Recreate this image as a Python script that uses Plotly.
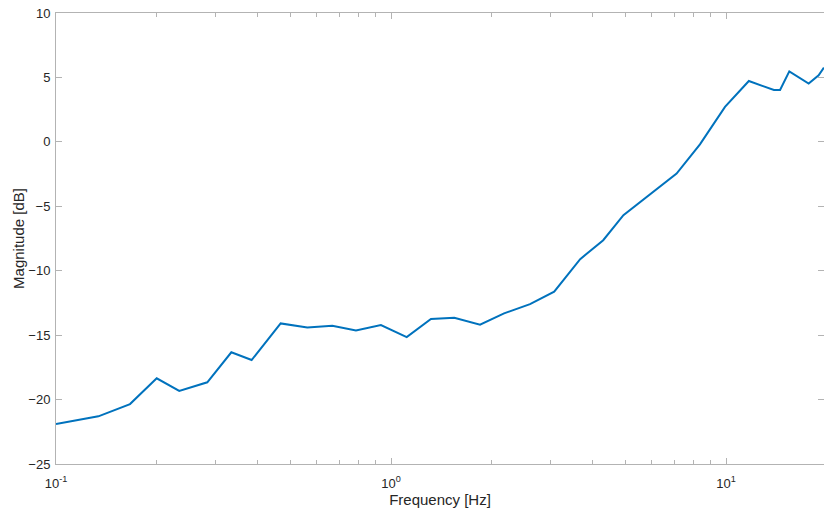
import plotly.graph_objects as go

# Measured frequency response
freq_hz = [0.1, 0.1338, 0.1663, 0.1998, 0.2333, 0.2829, 0.3337, 0.3837, 0.4684,
           0.5626, 0.668, 0.786, 0.933, 1.114, 1.316, 1.545, 1.844, 2.175, 2.60,
           3.07, 3.67, 4.30, 4.94, 7.12, 8.36, 9.93, 11.7, 13.9, 14.5, 15.45,
           17.65, 18.9, 19.6]
magnitude_db = [-21.9, -21.3, -20.35, -18.35, -19.33, -18.66, -16.33, -16.93, -14.09,
                -14.4, -14.27, -14.63, -14.22, -15.15, -13.75, -13.65, -14.19, -13.31, -12.59,
                -11.63, -9.1, -7.63, -5.69, -2.46, -0.19, 2.71, 4.72, 4.02, 4.02, 5.47,
                4.52, 5.16, 5.76]

x_major = [0.1, 1, 10]
x_major_text = ["10<sup>-1</sup>", "10<sup>0</sup>", "10<sup>1</sup>"]
x_minor = [m * d for d in (0.1, 1, 10) for m in range(2, 10)]
y_ticks = [-25, -20, -15, -10, -5, 0, 5, 10]

axis_grey = "#b3b3b3"
text_dark = "#262626"
font_family = "Helvetica, Liberation Sans, Arial, sans-serif"

fig = go.Figure(
    go.Scatter(
        x=freq_hz,
        y=magnitude_db,
        mode="lines",
        line=dict(color="#0072BD", width=2),
        showlegend=False,
    )
)

fig.update_layout(
    width=824,
    height=512,
    margin=dict(l=56, r=0, t=13, b=48),
    paper_bgcolor="white",
    plot_bgcolor="white",
    font=dict(family=font_family, size=13, color=text_dark),
)

fig.update_xaxes(
    type="log",
    range=[-1, 1.2925],
    tickvals=x_major,
    ticktext=x_major_text,
    ticks="inside",
    ticklen=6,
    tickcolor=axis_grey,
    ticklabelstandoff=7,
    showline=True,
    linecolor=axis_grey,
    linewidth=1,
    mirror="allticks",
    showgrid=False,
    zeroline=False,
    tickfont=dict(size=13, color=text_dark),
    minor=dict(tickvals=x_minor, ticks="inside", ticklen=4, tickcolor=axis_grey, showgrid=False),
    title=dict(text="Frequency [Hz]", font=dict(size=15, color=text_dark), standoff=1),
)

fig.update_yaxes(
    range=[-25, 10],
    tickvals=y_ticks,
    ticks="inside",
    ticklen=6,
    tickcolor=axis_grey,
    ticklabelstandoff=2,
    showline=True,
    linecolor=axis_grey,
    linewidth=1,
    mirror="allticks",
    showgrid=False,
    zeroline=False,
    tickfont=dict(size=13, color=text_dark),
    title=dict(text="Magnitude [dB]", font=dict(size=15, color=text_dark), standoff=0),
)

fig.write_html("out.html")
